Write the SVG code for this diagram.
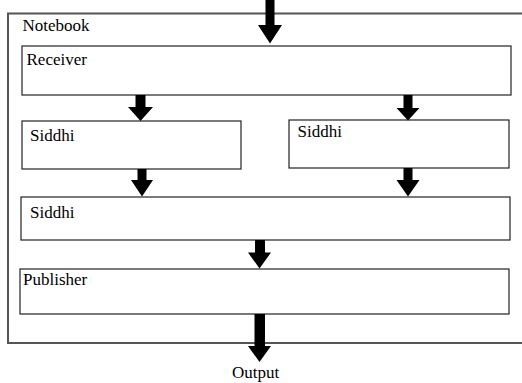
<svg xmlns="http://www.w3.org/2000/svg" width="522" height="383" viewBox="0 0 522 383">
<style>
.box{fill:#fff;stroke:#222;stroke-width:1.2}
.cont{fill:#fff;stroke:#555;stroke-width:2}
.t{font-family:"Liberation Serif","Times New Roman",serif;font-size:17px;fill:#000}
.ar{fill:#000}
</style>
<rect width="522" height="383" fill="#fff"/>
<g id="notebook">
<rect class="cont" x="8" y="13.5" width="530" height="329.5"/>
<text class="t" x="22.5" y="31">Notebook</text>
</g>
<g id="receiver">
<rect class="box" x="22" y="46" width="489" height="49"/>
<text class="t" x="26.5" y="65">Receiver</text>
</g>
<g id="siddhi-left">
<rect class="box" x="22" y="121" width="219" height="48"/>
<text class="t" x="30" y="140.5">Siddhi</text>
</g>
<g id="siddhi-right">
<rect class="box" x="289" y="120" width="220" height="48"/>
<text class="t" x="297.5" y="137">Siddhi</text>
</g>
<g id="siddhi-bottom">
<rect class="box" x="21" y="197" width="489" height="43"/>
<text class="t" x="30" y="218">Siddhi</text>
</g>
<g id="publisher">
<rect class="box" x="20" y="269" width="489" height="45"/>
<text class="t" x="23" y="284.5">Publisher</text>
</g>
<g id="output">
<text class="t" x="232" y="377.5">Output</text>
</g>
<g id="connectors">
<polygon class="ar" points="265.5,0 274.5,0 274.5,25 282,25 270,43.5 258,25 265.5,25"/>
<polygon class="ar" points="135.5,95 145.5,95 145.5,107 153,107 140.5,121 128,107 135.5,107"/>
<polygon class="ar" points="403.5,95 412.5,95 412.5,108 419.5,108 408,120.5 396.5,108 403.5,108"/>
<polygon class="ar" points="137.5,169 146.5,169 146.5,180 153,180 142,196.5 131,180 137.5,180"/>
<polygon class="ar" points="403.5,168 412.5,168 412.5,180 419.5,180 408,196.5 396.5,180 403.5,180"/>
<polygon class="ar" points="255,240 265,240 265,252.5 271,252.5 259.5,268.5 248,252.5 255,252.5"/>
<polygon class="ar" points="254.5,314 265,314 265,346 271,346 259.5,362 248,346 254.5,346"/>
</g>
</svg>
